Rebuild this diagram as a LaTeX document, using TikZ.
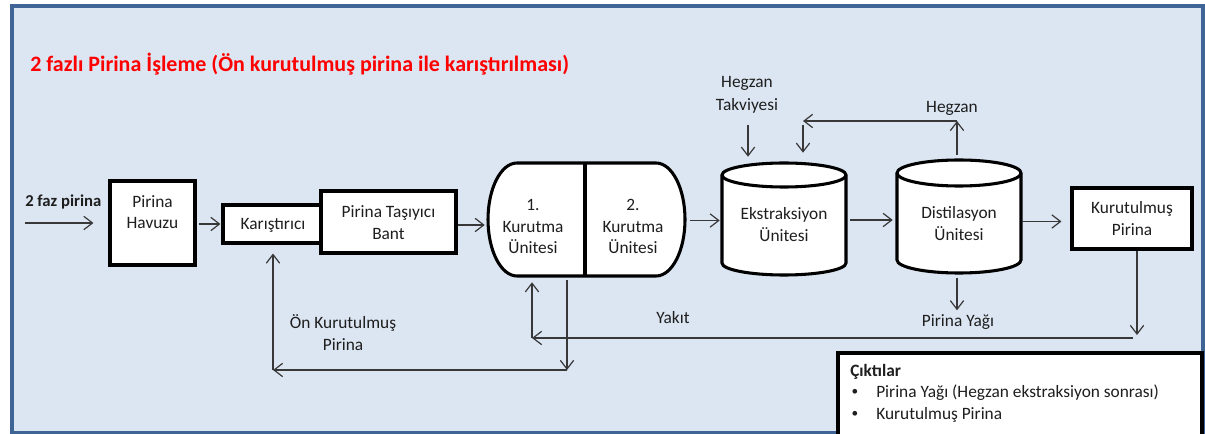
\documentclass[tikz,border=0pt]{standalone}
\usepackage{fontspec}
\setmainfont{Carlito}
\usetikzlibrary{arrows.meta,fit,calc}
\definecolor{bgblue}{HTML}{DCE6F2}
\definecolor{frameblue}{HTML}{3F6496}
\definecolor{txtcol}{HTML}{1E1E1E}
\definecolor{lncol}{HTML}{383838}
\begin{document}
\begin{tikzpicture}[x=0.75pt,y=0.75pt,
  box/.style={draw=black, line width=2.3pt, fill=white, inner sep=0pt},
  txt/.style={text=txtcol, font=\fontsize{13}{16}\selectfont, align=center, inner sep=0pt},
  arr/.style={draw=lncol, line width=0.9pt, -{Straight Barb[length=6.5pt,width=10pt]}},
  vessel/.style={draw=black, line width=2.3pt, fill=white}]
\clip (0,0) rectangle (1205,-434);
\fill[white] (0,0) rectangle (1205,-434);
\draw[frameblue, line width=3pt, fill=bgblue] (12,-6) rectangle (1203,-433);

% title
\node[anchor=west, text=red, font=\fontsize{16.5}{19}\selectfont\bfseries, inner sep=0pt] (title) at (30,-64)
  {2 fazlı Pirina İşleme (Ön kurutulmuş pirina ile karıştırılması)};

% input
\node[txt, font=\fontsize{12.5}{15}\selectfont\bfseries, anchor=west] (inlbl) at (25,-202) {2 faz pirina};
\coordinate (inS) at (25,-223);

% Pirina Havuzu
\node[box, fit={(110,-181)(195,-265)}] (havuzu) {};
\node[txt] (havuzuT) at (152.5,-212) {Pirina\\Havuzu};

% Karistirici and bant
\node[box, fit={(223,-205)(322,-243)}] (karis) {};
\node[txt] (karisT) at (273,-225) {Karıştırıcı};
\node[box, fit={(321,-191)(456,-253)}] (bant) {};
\node[txt] (bantT) at (388.5,-222.5) {Pirina Taşıyıcı\\Bant};

% dryer
\draw[vessel] (517,-163) -- (656,-163)
  arc[start angle=90, end angle=-90, x radius=29, y radius=56.5] -- (517,-276)
  arc[start angle=270, end angle=90, x radius=29, y radius=56.5] -- cycle;
\draw[line width=2.3pt] (585,-163) -- (585,-276);
\node[fit={(488,-163)(685,-276)}, inner sep=0pt] (dryer) {};
\node[txt] (k1) at (533,-226.5) {1.\\Kurutma\\Ünitesi};
\node[txt] (k2) at (633,-226.5) {2.\\Kurutma\\Ünitesi};

% Ekstraksiyon cylinder
\draw[vessel] (722,-175) -- (722,-263)
  arc[start angle=180, end angle=360, x radius=62, y radius=12] -- (846,-175)
  arc[start angle=0, end angle=180, x radius=62, y radius=12] -- cycle;
\draw[line width=2.3pt] (722,-175) arc[start angle=180, end angle=360, x radius=62, y radius=12];
\node[fit={(722,-163)(846,-275)}, inner sep=0pt] (ekstr) {};
\node[txt] (ekstrT) at (784,-224.5) {Ekstraksiyon\\Ünitesi};

% Distilasyon cylinder
\draw[vessel] (897,-173) -- (897,-260)
  arc[start angle=180, end angle=360, x radius=62, y radius=13] -- (1021,-173)
  arc[start angle=0, end angle=180, x radius=62, y radius=13] -- cycle;
\draw[line width=2.3pt] (897,-173) arc[start angle=180, end angle=360, x radius=62, y radius=13];
\node[fit={(897,-160)(1021,-273)}, inner sep=0pt] (distil) {};
\node[txt] (distT) at (959,-223.5) {Distilasyon\\Ünitesi};

% Kurutulmus Pirina
\node[box, fit={(1072,-188)(1192,-249)}] (kurut) {};
\node[txt] (kurutT) at (1132,-218.5) {Kurutulmuş\\Pirina};

% labels
\node[txt, font=\fontsize{13}{17}\selectfont] (hegT) at (747,-95) {Hegzan\\Takviyesi};
\node[txt] (hegz) at (952,-108) {Hegzan};
\node[txt] (yagi) at (958,-322) {Pirina Yağı};
\node[txt] (yakit) at (673,-318) {Yakıt};
\node[txt] (onk) at (343,-332.5) {Ön Kurutulmuş\\Pirina};

% coordinates
\coordinate (hegTs) at (748,-125);
\coordinate (hegTop) at (957,-121);
\coordinate (hegL) at (803,-121);
\coordinate (kd) at (1137,-338);
\coordinate (yl) at (532,-338);
\coordinate (dd) at (567,-370);
\coordinate (ol) at (273,-370);

% main flow arrows
\draw[arr] (inS) -- ($(inS -| havuzu.west)+(-15,0)$);
\draw[arr] ($(havuzu.east)+(2,-1)$) -- ($(havuzu.east -| karis.west)+(-1,-1)$);
\draw[arr] ($(bant.east)+(0,-3)$) -- ($(bant.east -| dryer.west)+(-3,-3)$);
\draw[arr] ($(dryer.east)+(5,-1)$) -- ($(dryer.east -| ekstr.west)+(-2,-1)$);
\draw[arr] ($(ekstr.east)+(4,-1)$) -- ($(ekstr.east -| distil.west)+(-4,-1)$);
\draw[arr] ($(distil.east)+(1,-5)$) -- ($(distil.east -| kurut.west)+(-9,-5)$);

% hegzan
\draw[arr] (hegTs) -- ($(hegTs |- ekstr.north)+(0,6)$);
\draw[arr] ($(distil.north -| hegTop)+(0,5)$) -- (hegTop);
\draw[arr] (hegTop) -- (hegL);
\draw[arr] ($(hegL)+(0,-4)$) -- ($(hegL |- ekstr.north)+(0,10)$);

% pirina yagi
\draw[arr] ($(distil.south)+(-2,-5)$) -- ++(0,-32);

% yakit loop
\draw[arr] (kurut.south -| kd) -- ($(kd)+(0,3)$);
\draw[arr] ($(kd)+(-4,0)$) -- (yl);
\draw[arr] (yl) -- ($(yl |- dryer.south)+(0,-6)$);

% on kurutulmus loop
\draw[arr] ($(dryer.south -| dd)+(0,-4)$) -- (dd);
\draw[arr] (dd) -- (ol);
\draw[arr] (ol) -- ($(ol |- karis.south)+(0,-9)$);

% outputs box
\node[box, fit={(838,-353)(1202,-450)}] (cikti) {};
\node[txt, font=\fontsize{13}{15}\selectfont\bfseries, anchor=west] (ciktiT) at (850,-372) {Çıktılar};
\node[txt, font=\fontsize{10}{12}\selectfont] (b1) at (855,-392) {•};
\node[txt, font=\fontsize{10}{12}\selectfont] (b2) at (855,-414) {•};
\node[txt, anchor=west] (i1) at (876,-393) {Pirina Yağı (Hegzan ekstraksiyon sonrası)};
\node[txt, anchor=west] (i2) at (876,-415) {Kurutulmuş Pirina};
\end{tikzpicture}
\end{document}
